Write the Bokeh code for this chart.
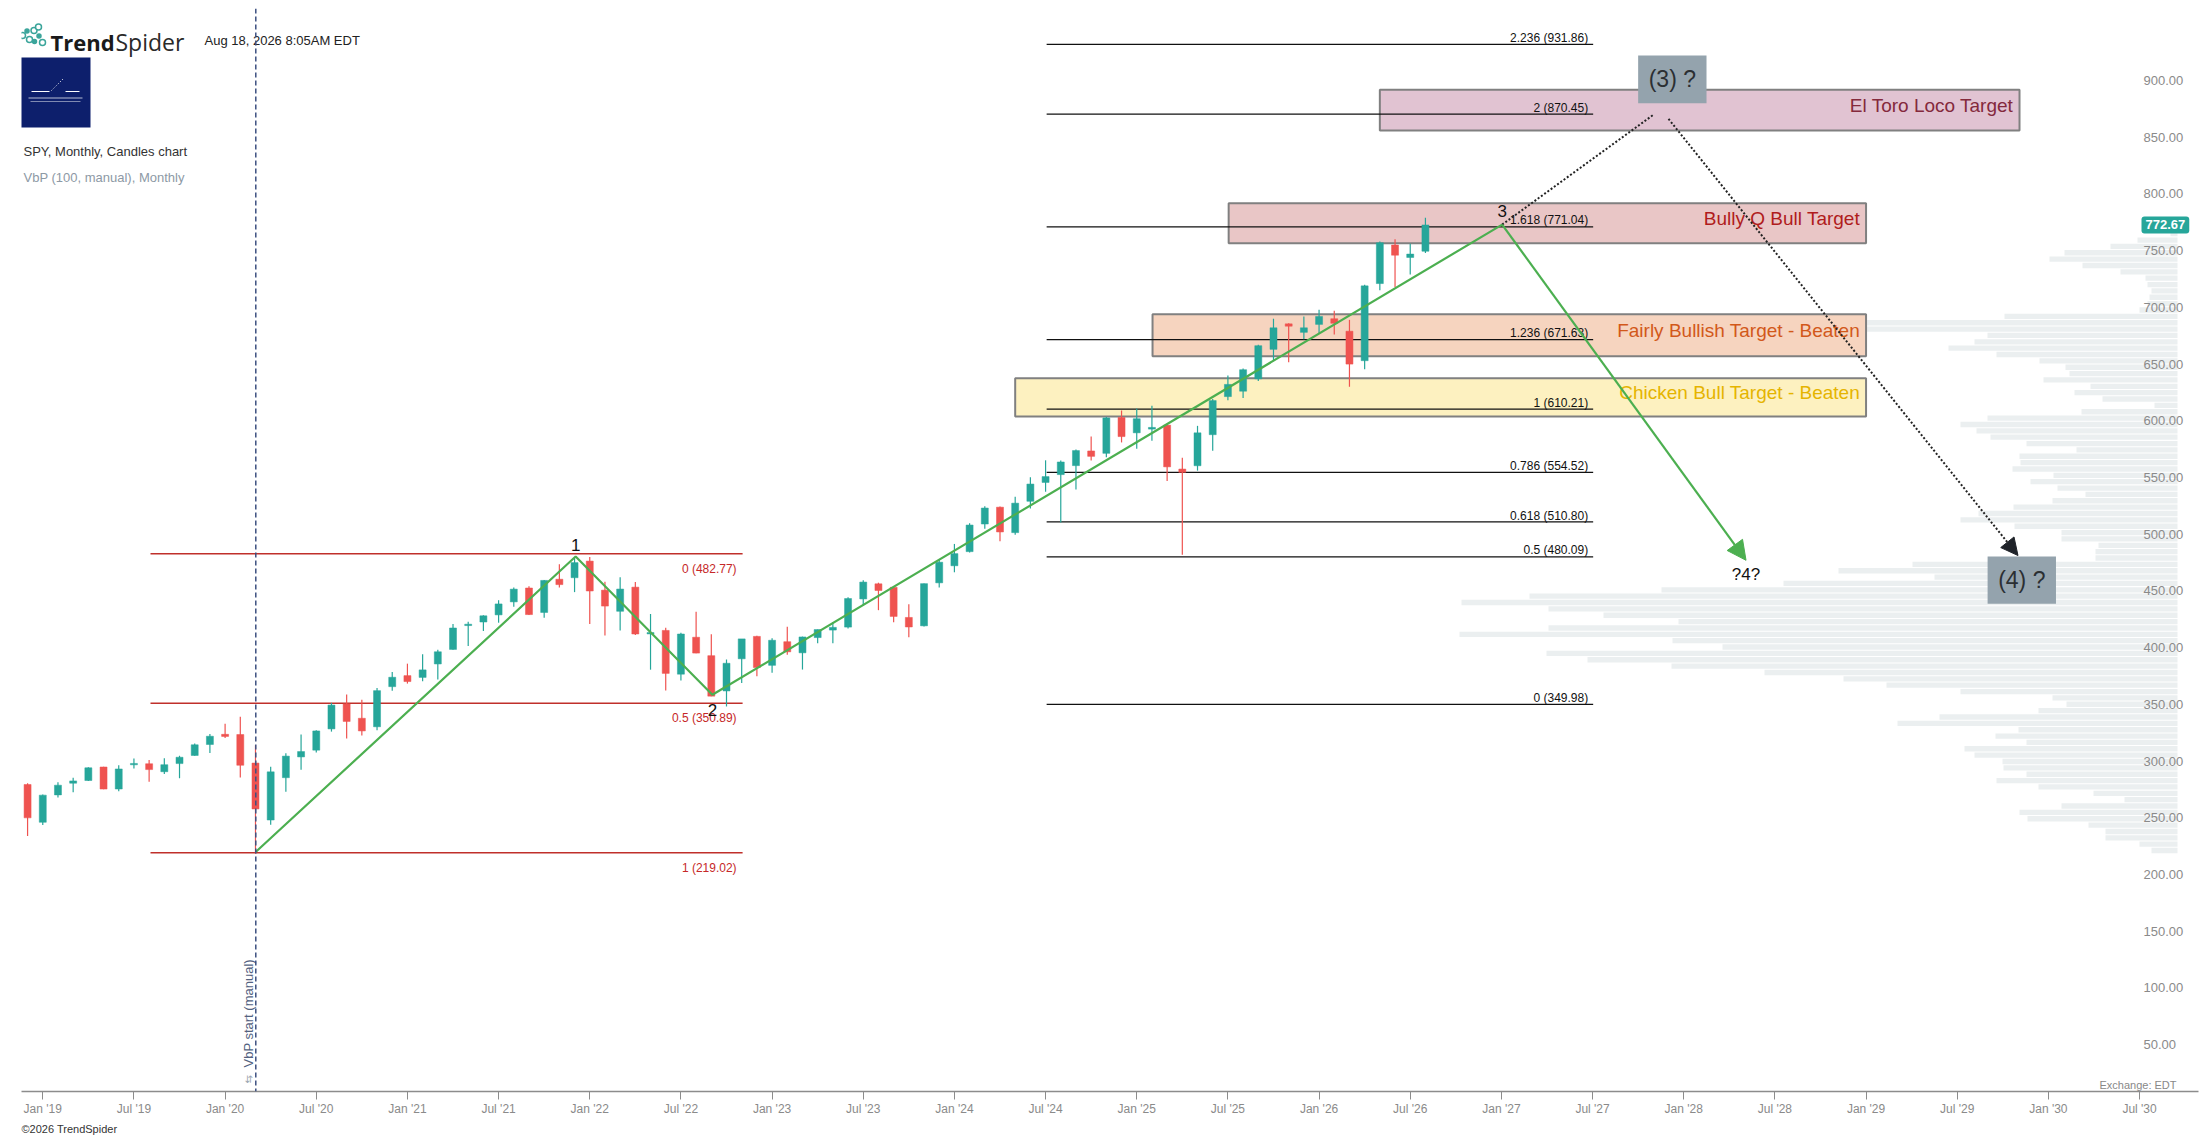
import math
from bokeh.plotting import figure
from bokeh.models import Range1d, FixedTicker, Span, Arrow, NormalHead, Label, ColumnDataSource, Title
from bokeh.embed import file_html
from bokeh.resources import INLINE
from bokeh.core.properties import value

# ---------------- data ----------------
first_month = (2018, 12)   # month of the first candle
opens = [279.30, 245.98, 270.15, 280.45, 282.80, 294.72, 275.31, 296.68, 297.60, 290.57, 297.74, 304.92, 314.59,
         323.54, 323.35, 298.21, 247.98, 285.31, 303.62, 309.57, 328.32, 350.35, 337.69, 330.20, 365.57,
         375.31, 373.72, 385.59, 398.40, 419.43, 422.57, 428.87, 440.34, 452.56, 430.98, 460.30, 461.64,
         476.30, 450.68, 432.03, 453.31, 412.07, 415.17, 376.56, 409.15, 392.89, 361.80, 390.14, 409.90,
         384.37, 405.21, 395.41, 408.85, 415.47, 418.09, 442.92, 456.27, 453.17, 426.62, 419.20, 457.12,
         472.16, 484.63, 508.98, 523.83, 501.38, 529.02, 545.63, 552.57, 560.47, 573.40, 571.32, 602.97,
         589.39, 592.67, 596.18, 557.45, 560.37, 587.76, 621.35, 626.08, 637.00, 663.00, 685.50, 678.00,
         685.00, 690.00, 679.00, 653.00, 721.00, 755.00, 744.00, 749.50]
highs = [280.40, 270.47, 281.31, 285.18, 294.45, 294.95, 296.31, 302.23, 300.87, 302.46, 304.55, 315.48, 323.80,
         332.95, 339.08, 313.84, 294.88, 306.84, 323.41, 327.23, 351.30, 358.75, 354.02, 364.38, 378.46,
         385.85, 394.17, 398.12, 420.72, 422.82, 428.56, 441.80, 453.07, 454.05, 459.56, 473.54, 479.00,
         479.98, 458.12, 462.07, 457.83, 429.66, 417.44, 413.03, 431.73, 411.73, 389.52, 407.68, 410.49,
         408.16, 418.31, 409.70, 415.94, 422.58, 444.30, 459.44, 457.25, 453.67, 438.14, 456.50, 477.55,
         491.42, 509.74, 524.61, 524.38, 533.07, 550.28, 565.16, 565.03, 574.71, 586.12, 603.35, 609.07,
         610.78, 613.23, 597.34, 567.49, 595.54, 619.22, 639.84, 646.19, 667.00, 690.00, 686.00, 692.00,
         698.00, 697.00, 689.00, 720.00, 758.00, 760.00, 756.00, 779.00]
lows = [233.80, 243.67, 267.83, 272.42, 282.48, 275.01, 273.40, 293.50, 281.72, 288.65, 284.82, 304.74, 307.13,
        320.36, 285.54, 218.26, 243.90, 272.99, 292.27, 307.58, 325.93, 319.80, 322.60, 327.24, 362.03,
        368.27, 370.38, 371.88, 398.18, 401.34, 414.70, 421.97, 436.10, 428.78, 426.36, 453.00, 448.92,
        420.76, 410.64, 415.12, 411.21, 380.54, 362.17, 371.04, 395.04, 357.04, 348.11, 368.79, 374.77,
        377.83, 393.64, 380.65, 403.78, 403.74, 416.79, 437.06, 433.01, 422.29, 409.21, 418.65, 453.02,
        466.43, 483.80, 504.91, 493.86, 499.55, 522.60, 537.45, 510.27, 539.44, 565.00, 567.89, 580.91,
        575.35, 582.44, 546.87, 481.80, 556.04, 573.62, 618.05, 620.00, 635.00, 653.00, 651.70, 672.00,
        677.00, 676.00, 630.00, 645.50, 715.00, 718.00, 729.00, 748.00]
closes = [249.90, 269.93, 278.68, 282.48, 294.02, 275.27, 293.00, 297.43, 292.45, 296.77, 303.33, 314.31, 321.86,
          321.73, 296.26, 257.75, 290.48, 304.32, 308.36, 326.52, 349.31, 334.89, 326.54, 362.06, 373.88,
          370.07, 380.36, 396.33, 417.30, 420.04, 428.06, 438.51, 451.56, 429.14, 459.25, 455.56, 474.96,
          449.91, 436.63, 451.64, 412.00, 412.93, 377.25, 411.99, 395.18, 357.18, 386.21, 407.68, 382.43,
          406.48, 396.26, 409.39, 415.93, 417.85, 443.28, 457.79, 450.35, 427.48, 418.20, 456.40, 475.31,
          482.88, 508.08, 523.07, 501.98, 527.37, 544.22, 550.81, 563.68, 573.76, 568.64, 602.55, 586.08,
          601.82, 594.18, 559.39, 554.54, 589.39, 617.85, 632.08, 645.05, 666.20, 682.00, 683.40, 682.00,
          692.00, 686.00, 650.00, 719.00, 757.00, 746.00, 747.00, 772.67]
last_price = 772.67

# x axis: months counted from Jan 2019
x_tick_months = list(range(0, 139, 6))
x_tick_labels = ["Jan '19", "Jul '19", "Jan '20", "Jul '20", "Jan '21", "Jul '21", "Jan '22", "Jul '22",
                 "Jan '23", "Jul '23", "Jan '24", "Jul '24", "Jan '25", "Jul '25", "Jan '26", "Jul '26",
                 "Jan '27", "Jul '27", "Jan '28", "Jul '28", "Jan '29", "Jul '29", "Jan '30", "Jul '30"]
y_ticks = [50, 100, 150, 200, 250, 300, 350, 400, 450, 500, 550, 600, 650, 700, 750, 800, 850, 900]
y_tick_labels = ["50.00", "100.00", "150.00", "200.00", "250.00", "300.00", "350.00", "400.00", "450.00",
                 "500.00", "550.00", "600.00", "650.00", "700.00", "750.00", "800.00", "850.00", "900.00"]

# Fibonacci retracement (red) and extension (black)
retr_levels = ["0", "0.5", "1"]
retr_prices = [482.77, 350.89, 219.02]
retr_from_month, retr_to_month = 7.09, 46.06
ext_levels = ["2.236", "2", "1.618", "1.236", "1", "0.786", "0.618", "0.5", "0"]
ext_prices = [931.86, 870.45, 771.04, 671.63, 610.21, 554.52, 510.80, 480.09, 349.98]
ext_from_month, ext_to_month = 66.07, 102.04

# target zones
target_names = ["El Toro Loco Target", "Bully Q Bull Target",
                "Fairly Bullish Target - Beaten", "Chicken Bull Target - Beaten"]
target_low = [855.9, 756.6, 657.0, 603.8]
target_high = [891.8, 791.8, 694.0, 637.6]
target_start = [88.0, 78.05, 73.04, 64.0]
target_end = [130.1, 120.0, 120.0, 120.0]

# Elliott wave count (month position, price)
wave_x = [14.03, 35.07, 44.07, 96.05]
wave_y = [219.96, 480.3, 358.4, 773.0]
wave_labels = ["1", "2", "3"]
wave4_x, wave4_y = 112.1, 477.0
alt3_box = (105.0, 109.5, 880.0, 922.1)     # "(3) ?" left, right, bottom, top
alt3_tail = (106.0, 869.8)
alt4_start = (107.0, 866.2)
alt4_tip = (130.0, 481.2)
alt4_box = (128.0, 132.5, 438.6, 480.3)     # "(4) ?"

# volume-by-price (100 rows, manual start Mar 2020), relative volume, bottom row first
vbp_start_month = 14
vbp_volume = [26, 38, 72, 72, 89, 150, 158, 116, 53, 84,
              139, 181, 151, 174, 175, 203, 213, 151, 182, 159,
              280, 238, 139, 111, 125, 217, 291, 334, 413, 506,
              590, 631, 455, 505, 718, 629, 499, 574, 629, 716,
              648, 516, 394, 243, 339, 265, 82, 82, 79, 116,
              116, 163, 217, 199, 164, 125, 92, 120, 147, 124,
              165, 157, 158, 101, 151, 187, 201, 217, 190, 96,
              23, 75, 103, 87, 134, 108, 112, 138, 181, 229,
              203, 190, 330, 338, 173, 38, 30, 28, 26, 30,
              32, 57, 95, 128, 113, 67, 40, 7, 5, 3]

# ---------------- layout helpers (page pixels) ----------------
W, H = 2200, 1137
FRAME_L, FRAME_R, FRAME_T, FRAME_B = 21, 2198, 8, 1091
PPM = 15.194      # px per month
PPP = 1.1341      # px per price unit
X0, Y0 = -1.40, 8.6
X1 = X0 + (FRAME_R - FRAME_L) / PPM
Y1 = Y0 + (FRAME_B - FRAME_T) / PPP

def X(px):
    return X0 + (px - FRAME_L) / PPM

def Y(py):
    return Y0 + (FRAME_B - py) / PPP

PXM = 1 / PPM   # months per px
PXP = 1 / PPP   # price per px

FONT = value("Liberation Sans")
GREEN, RED = "#26a69a", "#ef5350"

p = figure(width=W, height=H, x_range=Range1d(X0, X1), y_range=Range1d(Y0, Y1),
           output_backend="svg", toolbar_location=None, y_axis_location="right",
           min_border_left=FRAME_L, min_border_right=W - FRAME_R, min_border_top=FRAME_T,
           min_border_bottom=H - FRAME_B)
p.outline_line_color = None
p.xgrid.visible = False
p.ygrid.visible = False
p.background_fill_color = "white"

# axes
xa = p.xaxis[0]
xa.ticker = FixedTicker(ticks=x_tick_months)
xa.major_label_overrides = {m: t for m, t in zip(x_tick_months, x_tick_labels)}
xa.minor_tick_line_color = None
xa.major_tick_out = 8
xa.major_tick_in = 0
xa.major_tick_line_color = "#8c8c8c"
xa.axis_line_color = "#8c8c8c"
xa.axis_line_width = 1.5
xa.major_label_standoff = 2
xa.major_label_text_font = "Liberation Sans"
xa.major_label_text_font_size = "12px"
xa.major_label_text_color = "#8a8a8a"

ya = p.yaxis[0]
ya.ticker = FixedTicker(ticks=y_ticks)
ya.major_label_overrides = {v: t for v, t in zip(y_ticks, y_tick_labels)}
ya.minor_tick_line_color = None
ya.major_tick_line_color = None
ya.major_tick_out = 0
ya.major_tick_in = 0
ya.axis_line_color = None
ya.major_label_standoff = 2143 - FRAME_R
ya.major_label_text_font = "Liberation Sans"
ya.major_label_text_font_size = "13px"
ya.major_label_text_color = "#8a8a8a"

p.add_layout(Title(text="©2026 TrendSpider", align="left", text_font="Liberation Sans",
                   text_font_size="11px", text_font_style="normal", text_color="#333333",
                   standoff=5), "below")

# ---------------- volume by price ----------------
vbp_lo = min(lows[vbp_start_month + 1:])
vbp_hi = max(highs[vbp_start_month + 1:])
row = (vbp_hi - vbp_lo) / len(vbp_volume)
vmax = max(vbp_volume)
vbp_right = X(2177)
vbp_span_months = 718 * PXM
p.hbar(y=[vbp_lo + (k + 0.5) * row for k in range(len(vbp_volume))],
       left=[vbp_right - v / vmax * vbp_span_months for v in vbp_volume],
       right=vbp_right, height=row * 0.84, fill_color="#ebeff0", line_color=None)

# ---------------- target zones ----------------
zone_fill = ["#e1c3d2", "#e9c6c6", "#f6d4bf", "#fdf1c0"]
zone_text = ["#84293c", "#b01c1c", "#d2581a", "#e5b400"]
p.quad(left=target_start, right=target_end, bottom=target_low, top=target_high,
       fill_color=zone_fill, line_color="#808080", line_width=2)
p.text(x=[e - 6 * PXM for e in target_end],
       y=[(lo + hi) / 2 + 5 * PXP for lo, hi in zip(target_low, target_high)],
       text=target_names, text_color=zone_text, text_font=FONT, text_font_size="19px",
       text_align="right", text_baseline="middle")

# ---------------- fib lines ----------------
p.segment(x0=retr_from_month, x1=retr_to_month, y0=retr_prices, y1=retr_prices,
          line_color="#c0302b", line_width=1.5)
p.text(x=retr_to_month - 6 * PXM, y=[v - 15 * PXP for v in retr_prices],
       text=[f"{l} ({v:.2f})" for l, v in zip(retr_levels, retr_prices)],
       text_color="#c62828", text_font=FONT, text_font_size="12px",
       text_align="right", text_baseline="alphabetic")
p.segment(x0=ext_from_month, x1=ext_to_month, y0=ext_prices, y1=ext_prices,
          line_color="#111111", line_width=1.3)
p.text(x=ext_to_month - 5 * PXM, y=[v + 6.4 * PXP for v in ext_prices],
       text=[f"{l} ({v:.2f})" for l, v in zip(ext_levels, ext_prices)],
       text_color="#111111", text_font=FONT, text_font_size="12px",
       text_align="right", text_baseline="alphabetic")

# ---------------- candles ----------------
fy, fm = first_month
xs = [(fy - 2019) * 12 + (fm - 1) + i for i in range(len(opens))]
src = ColumnDataSource(dict(
    x=xs, high=highs, low=lows,
    top=[max(o, c) if abs(o - c) > 1.2 else min(o, c) + 1.2 for o, c in zip(opens, closes)],
    bottom=[min(o, c) for o, c in zip(opens, closes)],
    color=[GREEN if c >= o else RED for o, c in zip(opens, closes)]))
p.segment(x0="x", x1="x", y0="low", y1="high", line_color="color", line_width=1.2, source=src)
p.vbar(x="x", width=7 * PXM, top="top", bottom="bottom", fill_color="color", line_color="color",
       line_width=0.5, source=src)

# VbP start marker
p.add_layout(Span(location=vbp_start_month + 0.02, dimension="height", line_color="#3d5080",
                  line_dash="5 3", line_width=1.5))
p.text(x=[X(248.3)], y=[Y(1067)], text=["VbP start (manual)"], angle=math.pi / 2,
       text_color="#53627f", text_font=FONT, text_font_size="13px",
       text_align="left", text_baseline="middle")
p.text(x=[X(248.3)], y=[Y(1083)], text=["⇆"], angle=math.pi / 2,
       text_color="#9aa5b1", text_font=value("DejaVu Sans"), text_font_size="10px",
       text_align="left", text_baseline="middle")

# ---------------- wave count ----------------
p.line(wave_x, wave_y, line_color="#4caf50", line_width=2.2)
p.add_layout(Arrow(end=NormalHead(size=19, fill_color="#4caf50", line_color="#4caf50"),
                   x_start=wave_x[-1], y_start=wave_y[-1], x_end=wave4_x, y_end=wave4_y,
                   line_color="#4caf50", line_width=2.2))
p.text(x=wave_x[1:], y=[wave_y[1] + 12 * PXP, wave_y[2] - 15 * PXP, wave_y[3] + 14 * PXP],
       text=wave_labels, text_color="#111111", text_font=FONT, text_font_size="17px",
       text_align="center", text_baseline="middle")
p.text(x=[wave4_x], y=[wave4_y - 14 * PXP], text=["?4?"], text_color="#111111", text_font=FONT,
       text_font_size="17px", text_align="center", text_baseline="middle")

p.line([wave_x[-1], alt3_tail[0]], [wave_y[-1], alt3_tail[1]], line_color="#222222",
       line_width=2, line_dash="2 2")
p.add_layout(Arrow(end=NormalHead(size=17, fill_color="#1f2329", line_color="#1f2329"),
                   x_start=alt4_start[0], y_start=alt4_start[1], x_end=alt4_tip[0], y_end=alt4_tip[1],
                   line_color="#222222", line_width=2, line_dash="2 2"))
for (l, r, b, t), txt in [(alt3_box, "(3) ?"), (alt4_box, "(4) ?")]:
    p.quad(left=[l], right=[r], bottom=[b], top=[t], fill_color="#94a3ad", line_color=None)
    p.text(x=[(l + r) / 2], y=[(b + t) / 2], text=[txt], text_color="#2b2f33", text_font=FONT,
           text_font_size="23px", text_align="center", text_baseline="middle")

# current price badge
p.add_layout(Label(x=X(2141), y=last_price, text=f"{last_price:.2f}", text_color="white",
                   text_font="Liberation Sans", text_font_size="13px", text_font_style="bold",
                   text_baseline="middle", text_align="left", background_fill_color=GREEN,
                   border_line_color=None, padding=4, border_radius=3))

# ---------------- header ----------------
icon = [(22, 35, 6, False), (26.5, 30.5, 4, True), (29, 39, 6, False), (33.5, 30, 6, False),
        (34, 41, 4, True), (38, 26.5, 6, False), (38.5, 35.5, 4, True), (42, 42, 6, False)]
p.scatter(x=[X(a) for a, b, s, f in icon], y=[Y(b) for a, b, s, f in icon],
          size=[s for a, b, s, f in icon],
          fill_color=["#3ba59b" if f else "white" for a, b, s, f in icon],
          line_color="#3ba59b", line_width=1.5)
p.text(x=[X(50)], y=[Y(41.7)], text=["Trend"], text_font=value("Open Sans"), text_font_size="22px",
       text_font_style="bold", text_color="#1a1a1a", text_baseline="alphabetic")
p.text(x=[X(115)], y=[Y(41.7)], text=["Spider"], text_font=value("Open Sans"), text_font_size="23px",
       text_color="#2a2a2a", text_baseline="alphabetic")
p.text(x=[X(204)], y=[Y(39.5)], text=["Aug 18, 2026 8:05AM EDT"], text_font=FONT,
       text_font_size="13px", text_color="#222222", text_baseline="alphabetic")
p.quad(left=[X(20)], right=[X(90)], top=[Y(57)], bottom=[Y(127)], fill_color="#0d1f6c", line_color=None)
p.segment(x0=[X(31), X(65), X(28), X(30)], x1=[X(49), X(79), X(82), X(80)],
          y0=[Y(91), Y(91), Y(97.5), Y(101)], y1=[Y(91), Y(91), Y(97.5), Y(101)],
          line_color="white", line_width=[1, 1, 1.2, 0.8], line_alpha=[1, 1, 0.7, 0.6])
p.line([X(51), X(63)], [Y(90), Y(78)], line_color="white", line_width=1, line_dash="1 2")
p.text(x=[X(23)], y=[Y(151)], text=["SPY, Monthly, Candles chart"], text_font=FONT,
       text_font_size="13px", text_color="#333333", text_baseline="alphabetic")
p.text(x=[X(23)], y=[Y(177)], text=["VbP (100, manual), Monthly"], text_font=FONT,
       text_font_size="13px", text_color="#8d99a5", text_baseline="alphabetic")
p.text(x=[X(2176)], y=[Y(1084.7)], text=["Exchange: EDT"], text_font=FONT, text_font_size="11px",
       text_color="#888888", text_align="right", text_baseline="middle")

open("out.html", "w").write(file_html(p, INLINE))
